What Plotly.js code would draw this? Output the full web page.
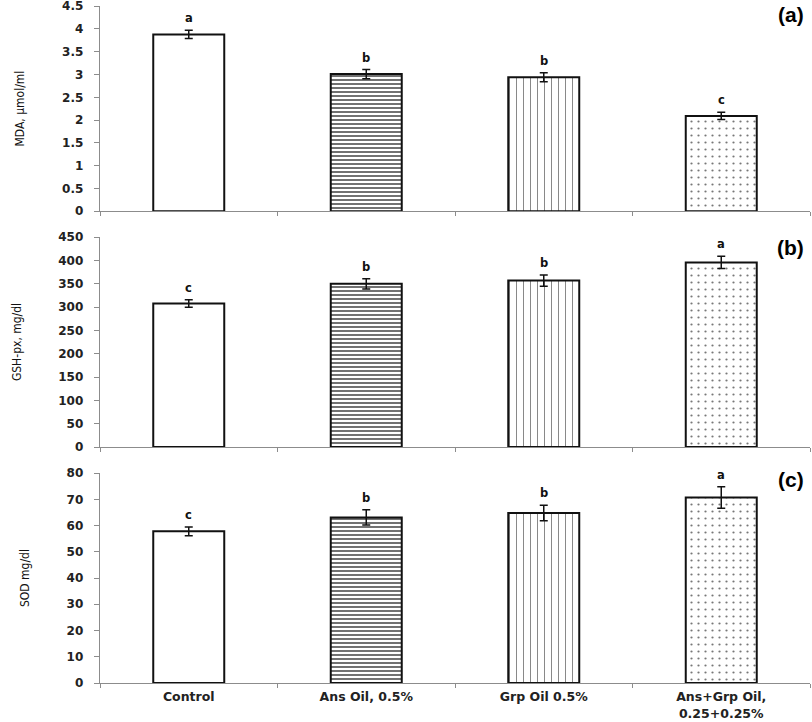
<!DOCTYPE html>
<html>
<head>
<meta charset="utf-8">
<script src="https://cdn.plot.ly/plotly-3.0.1.min.js"></script>
<style>html,body{margin:0;padding:0;background:#fff;}#chart{width:812px;height:722px;}</style>
</head>
<body>
<div id="chart"></div>
<script>
var categories = ["Control", "Ans Oil, 0.5%", "Grp Oil 0.5%", "Ans+Grp Oil,<br>0.25+0.25%"];
var mdaValues = [3.88, 3.01, 2.94, 2.09];
var mdaErrors = [0.09, 0.10, 0.10, 0.08];
var mdaLetters = ["a", "b", "b", "c"];
var gshValues = [308, 350, 357, 396];
var gshErrors = [8, 11, 12, 13];
var gshLetters = ["c", "b", "b", "a"];
var sodValues = [57.8, 63.1, 64.8, 70.7];
var sodErrors = [1.7, 2.9, 3.0, 4.1];
var sodLetters = ["c", "b", "b", "a"];
var panelLabels = ["(a)", "(b)", "(c)"];
var yTitles = ["MDA, µmol/ml", "GSH-px, mg/dl", "SOD mg/dl"];

var patterns = [
  {shape: "", fgcolor: "#000000", size: 8, solidity: 0.3},
  {shape: "-", fgcolor: "#333333", size: 4, solidity: 0.35},
  {shape: "|", fgcolor: "#666666", size: 7, solidity: 0.11},
  {shape: ".", fgcolor: "#777777", size: 7, solidity: 0.08}
];

function makeTrace(vals, errs, xa, ya) {
  return {
    type: "bar",
    x: categories,
    y: vals,
    xaxis: xa,
    yaxis: ya,
    width: 0.4,
    marker: {
      color: "#ffffff",
      line: {color: "#111111", width: 2},
      pattern: {
        shape: patterns.map(function(p){return p.shape;}),
        fgcolor: patterns.map(function(p){return p.fgcolor;}),
        bgcolor: "#ffffff",
        size: patterns.map(function(p){return p.size;}),
        solidity: patterns.map(function(p){return p.solidity;})
      }
    },
    error_y: {type: "data", array: errs, visible: true, color: "#111111", thickness: 1.5, width: 4},
    showlegend: false,
    hoverinfo: "skip"
  };
}

var data = [
  makeTrace(mdaValues, mdaErrors, "x", "y"),
  makeTrace(gshValues, gshErrors, "x2", "y2"),
  makeTrace(sodValues, sodErrors, "x3", "y3")
];

var yTickFont = {family: "DejaVu Sans", size: 12, color: "#222", weight: "bold"};
var xTickFont = {family: "DejaVu Sans", size: 12.5, color: "#222", weight: "bold"};
var titleFont = {family: "DejaVu Sans Condensed, DejaVu Sans", size: 12, color: "#111", stretch: "condensed"};
var axisColor = "#8c8c8c";

function xAxis(show, anchor) {
  return {
    type: "category",
    anchor: anchor,
    domain: [0, 1],
    showline: true, linecolor: axisColor, linewidth: 1.3,
    ticks: "outside", tickson: "boundaries", ticklen: 4, tickcolor: axisColor,
    showgrid: false, zeroline: false,
    showticklabels: show,
    tickfont: xTickFont,
    ticklabelstandoff: 2,
    fixedrange: true
  };
}
function yAxis(domain, range, dtick, title, anchor) {
  return {
    anchor: anchor,
    domain: domain,
    range: range,
    dtick: dtick,
    tick0: 0,
    showline: true, linecolor: axisColor, linewidth: 1.3,
    ticks: "outside", ticklen: 5, tickcolor: axisColor,
    ticklabelstandoff: 8,
    ticklabeloverflow: "allow",
    showgrid: false, zeroline: false,
    tickfont: yTickFont,
    title: {text: title, font: titleFont, standoff: 34},
    fixedrange: true
  };
}

var annotations = [];
function addLetters(vals, errs, letters, xref, yref) {
  for (var i = 0; i < vals.length; i++) {
    annotations.push({
      x: categories[i], y: vals[i] + errs[i], xref: xref, yref: yref,
      text: letters[i], showarrow: false, yanchor: "bottom", yshift: 3,
      font: {family: "DejaVu Sans", size: 11.5, color: "#111", weight: "bold"}
    });
  }
}
addLetters(mdaValues, mdaErrors, mdaLetters, "x", "y");
addLetters(gshValues, gshErrors, gshLetters, "x2", "y2");
addLetters(sodValues, sodErrors, sodLetters, "x3", "y3");

var panelY = [0.987, 0.644, 0.300];
for (var k = 0; k < panelLabels.length; k++) {
  annotations.push({
    x: 0.995, y: panelY[k], xref: "paper", yref: "paper",
    text: panelLabels[k], showarrow: false, xanchor: "right", yanchor: "middle",
    font: {family: "Liberation Sans", size: 21, color: "#000", weight: "bold"}
  });
}

var layout = {
  width: 812, height: 722,
  margin: {l: 100, r: 2, t: 6, b: 39},
  paper_bgcolor: "#ffffff", plot_bgcolor: "#ffffff",
  xaxis: xAxis(false, "y"),
  xaxis2: xAxis(false, "y2"),
  xaxis3: xAxis(true, "y3"),
  yaxis: yAxis([0.697, 1.0], [0, 4.505], 0.5, yTitles[0], "x"),
  yaxis2: yAxis([0.3486, 0.6588], [0, 450.5], 50, yTitles[1], "x2"),
  yaxis3: yAxis([0, 0.3102], [0, 80.05], 10, yTitles[2], "x3"),
  annotations: annotations
};

Plotly.newPlot("chart", data, layout, {staticPlot: true, displayModeBar: false});
</script>
</body>
</html>
